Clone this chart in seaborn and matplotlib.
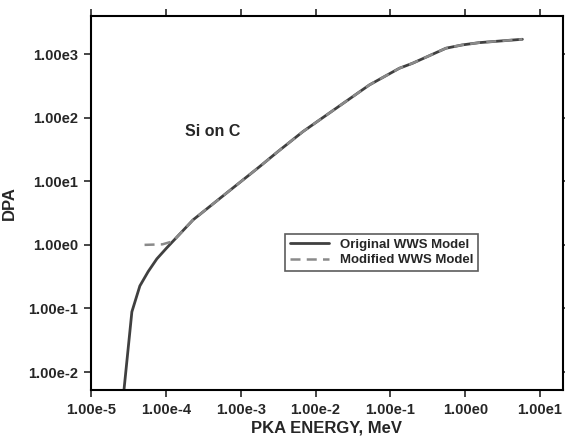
import matplotlib
matplotlib.use("Agg")
import matplotlib.pyplot as plt
import seaborn as sns
import pandas as pd
from matplotlib.ticker import FixedLocator, NullLocator

sns.set_style("ticks")
plt.rcParams['font.family'] = ['Liberation Sans', 'DejaVu Sans']
plt.rcParams['font.weight'] = 'bold'

# Original WWS model
orig_energy = [2.75e-5, 3.52e-5, 4.5e-5, 5.81e-5, 7.59e-5, 1.02e-4, 2.31e-4, 6.44e-4,
               1.79e-3, 3.14e-3, 6.78e-3, 1.89e-2, 5.25e-2, 0.132, 0.198, 0.553,
               0.912, 1.54, 5.81]
orig_dpa = [0.005, 0.0885, 0.226, 0.380, 0.603, 0.887, 2.47, 6.50,
            17.0, 29.3, 60.4, 141.0, 328.0, 600.0, 719.0, 1239.0,
            1396.0, 1517.0, 1714.0]

# Modified WWS model
mod_energy = [5.2e-5, 9.0e-5, 1.25e-4, 2.31e-4, 6.44e-4, 1.79e-3, 3.14e-3, 6.78e-3,
              1.89e-2, 5.25e-2, 0.132, 0.198, 0.553, 0.912, 1.54, 5.81]
mod_dpa = [1.0, 1.02, 1.14, 2.47, 6.50, 17.0, 29.3, 60.4,
           141.0, 328.0, 600.0, 719.0, 1239.0, 1396.0, 1517.0, 1714.0]

series_names = ["Original WWS Model", "Modified WWS Model"]
x_ticks = [1e-5, 1e-4, 1e-3, 1e-2, 1e-1, 1e0, 1e1]
x_ticklabels = ["1.00e-5", "1.00e-4", "1.00e-3", "1.00e-2", "1.00e-1", "1.00e0", "1.00e1"]
y_ticks = [1e-2, 1e-1, 1e0, 1e1, 1e2, 1e3]
y_ticklabels = ["1.00e-2", "1.00e-1", "1.00e0", "1.00e1", "1.00e2", "1.00e3"]

df = pd.concat([
    pd.DataFrame({"energy": orig_energy, "dpa": orig_dpa, "model": series_names[0]}),
    pd.DataFrame({"energy": mod_energy, "dpa": mod_dpa, "model": series_names[1]}),
])

fig = plt.figure(figsize=(5.65, 4.42), dpi=100)
ax = fig.add_axes([0.161, 0.1176, 0.8355, 0.8462])

sns.lineplot(data=df[df.model == series_names[0]], x="energy", y="dpa", ax=ax,
             color="#404040", linewidth=2.0, label=series_names[0], sort=False,
             estimator=None)
sns.lineplot(data=df[df.model == series_names[1]], x="energy", y="dpa", ax=ax,
             color="#8a8a8a", linewidth=1.8, linestyle=(0, (4, 2.5)),
             label=series_names[1], sort=False, estimator=None)

ax.set_xscale("log")
ax.set_yscale("log")
ax.set_xlim(1e-5, 10 ** 1.307)
ax.set_ylim(10 ** -2.283, 10 ** 3.6)

ax.xaxis.set_major_locator(FixedLocator(x_ticks))
ax.xaxis.set_minor_locator(NullLocator())
ax.set_xticklabels(x_ticklabels, fontsize=10.5, fontweight='bold')
ax.yaxis.set_major_locator(FixedLocator(y_ticks))
ax.yaxis.set_minor_locator(NullLocator())
ax.set_yticklabels(y_ticklabels, fontsize=10.5, fontweight='bold')

ax.tick_params(axis='both', which='major', direction='out', length=5, width=1.2,
               top=True, right=True, labeltop=False, labelright=False, pad=4)
for s in ax.spines.values():
    s.set_linewidth(1.5)
    s.set_color("black")

ax.set_xlabel("PKA ENERGY, MeV", fontsize=12, fontweight='bold', labelpad=3)
ax.set_ylabel("DPA", fontsize=12, fontweight='bold', labelpad=8)

ax.text(0.2, 0.69, "Si on C", transform=ax.transAxes, fontsize=11.5,
        fontweight='bold', va='center', ha='left')

leg = ax.legend(loc='upper left', bbox_to_anchor=(0.411, 0.417), fontsize=9.5,
                frameon=True, fancybox=False, edgecolor="#333333",
                handlelength=3.0, borderpad=0.35, labelspacing=0.25,
                handletextpad=0.8, borderaxespad=0)
leg.get_frame().set_linewidth(1.2)
for t in leg.get_texts():
    t.set_fontweight('bold')

fig.savefig("out.png", dpi=100)
